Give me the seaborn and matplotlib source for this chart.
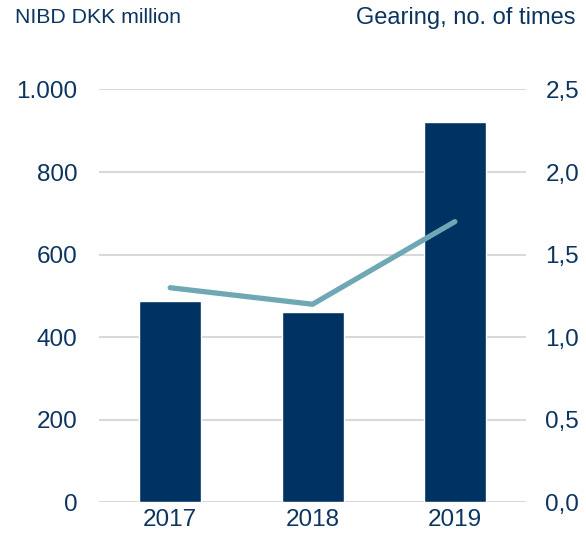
import matplotlib
matplotlib.use("Agg")
import matplotlib.pyplot as plt
from matplotlib.ticker import FuncFormatter
import seaborn as sns

years = ["2017", "2018", "2019"]
nibd = [488, 461, 921]
gearing = [1.3, 1.2, 1.7]
left_ticks = [0, 200, 400, 600, 800, 1000]
right_ticks = [0.0, 0.5, 1.0, 1.5, 2.0, 2.5]

navy = "#003361"
teal = "#6FA7B5"
text_col = "#0B3560"
grid_col = "#D9D9D9"

sns.set_style("white")
plt.rcParams["font.family"] = ["Liberation Sans", "DejaVu Sans"]

fig = plt.figure(figsize=(5.86, 5.41), dpi=100)
ax = fig.add_axes([0.169, 0.0712, 0.7287, 0.7634])

sns.barplot(x=years, y=nibd, ax=ax, color=navy, width=0.435, saturation=1)
ax.set_ylim(0, 1000)
ax.set_yticks(left_ticks)
ax.yaxis.set_major_formatter(FuncFormatter(lambda v, p: f"{int(v):,}".replace(",", ".")))
ax.grid(axis="y", color=grid_col, linewidth=1.5, zorder=0)
ax.set_axisbelow(True)
ax.set_xlabel("")
ax.set_ylabel("")
for s in ax.spines.values():
    s.set_visible(False)
ax.tick_params(axis="y", length=0, pad=15.5, labelsize=17.5, labelcolor=text_col)
ax.tick_params(axis="x", length=0, pad=5, labelsize=17.5, labelcolor=text_col)

# gearing on the right axis
ax2 = ax.twinx()
sns.pointplot(x=years, y=gearing, ax=ax2, color=teal, markers="", linewidth=3.8,
              errorbar=None)
ax2.lines[0].set_solid_capstyle("round")
ax2.set_ylim(0, 2.5)
ax2.set_yticks(right_ticks)
ax2.yaxis.set_major_formatter(FuncFormatter(lambda v, p: f"{v:.1f}".replace(".", ",")))
ax2.set_xlim(-0.5, 2.5)
ax.set_xlim(-0.5, 2.5)
ax2.set_ylabel("")
ax2.grid(False)
for s in ax2.spines.values():
    s.set_visible(False)
ax2.tick_params(axis="y", length=0, pad=14, labelsize=17.5, labelcolor=text_col)

fig.text(0.025, 0.967, "NIBD DKK million", fontsize=15.3, color=text_col, va="center", ha="left")
fig.text(0.982, 0.967, "Gearing, no. of times", fontsize=17, color=text_col, va="center", ha="right")

fig.savefig("out.png", dpi=100)
